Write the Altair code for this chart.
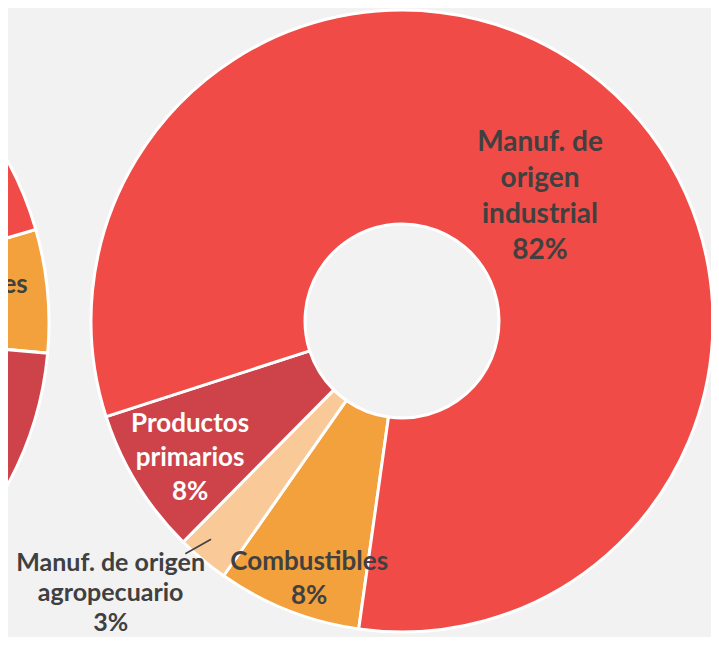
import math
import altair as alt
import pandas as pd

# ---------------- data ----------------
# right (main) donut, clockwise starting with Combustibles
categorias_der = ["Combustibles", "Manuf. de origen agropecuario",
                  "Productos primarios", "Manuf. de origen industrial"]
valores_der = [7.5, 2.7, 7.6, 82.2]
etiquetas_der = ["Combustibles\n8%", "Manuf. de origen\nagropecuario\n3%",
                 "Productos\nprimarios\n8%", "Manuf. de\norigen\nindustrial\n82%"]

# left (partially visible) donut
categorias_izq = ["Combustibles", "Productos primarios",
                  "Manuf. de origen agropecuario", "Manuf. de origen industrial"]
valores_izq = [5.9, 30.0, 3.1, 61.0]
etiquetas_izq = ["Combustibles", "Productos\nprimarios\n30%",
                 "Manuf. de origen\nagropecuario\n3%", "Manuf. de\norigen\nindustrial\n61%"]

dominio_colores = ["Manuf. de origen industrial", "Combustibles",
                   "Manuf. de origen agropecuario", "Productos primarios"]
colores = ["#F04B46", "#F3A13D", "#F9C998", "#CE424A"]

FONT = "Lato"
DARK = "#404040"
BG = "#F2F2F2"
TAU = 2 * math.pi


def frame(cats, vals, labs):
    return pd.DataFrame({"cat": cats, "valor": vals, "etiqueta": labs,
                         "orden": list(range(len(cats)))})


color_scale = alt.Scale(domain=dominio_colores, range=colores)


def donut(df, cx, cy, r_out, r_in, start_deg, labels, leader=None):
    start = math.radians(start_deg)
    tscale = alt.Scale(domain=[0, 100], range=[start, start + TAU])
    arc = alt.Chart(df).mark_arc(
        outerRadius=r_out, innerRadius=r_in, stroke="white", strokeWidth=3
    ).encode(
        x=alt.value(cx), y=alt.value(cy),
        theta=alt.Theta("valor:Q", stack=True, scale=tscale),
        order=alt.Order("orden:Q"),
        color=alt.Color("cat:N", scale=color_scale, legend=None),
    )
    base = alt.Chart(df).transform_window(
        cum="sum(valor)", sort=[alt.SortField("orden")], frame=[None, 0]
    ).transform_calculate(mid="datum.cum - datum.valor / 2")
    layers = [arc]
    for cat, spec in labels.items():
        layers.append(
            base.transform_filter(alt.datum.cat == cat).mark_text(
                radius=spec["r"], dx=spec.get("dx", 0), dy=spec.get("dy", 0),
                font=FONT, fontWeight="bold", fontSize=spec["fs"],
                lineHeight=spec["lh"], lineBreak="\n", color=spec["color"],
                align="center", baseline="middle",
            ).encode(
                x=alt.value(cx), y=alt.value(cy),
                theta=alt.Theta("mid:Q", stack=False, scale=tscale),
                text="etiqueta:N",
            )
        )
    if leader is not None:
        cat, r1, a1, r2, a2 = leader
        ang = f"({start} + datum.mid / 100 * {TAU})"
        layers.append(
            base.transform_filter(alt.datum.cat == cat).transform_calculate(
                lx1=f"{cx} + {r1} * sin({ang} + {a1})",
                ly1=f"{cy} - {r1} * cos({ang} + {a1})",
                lx2=f"{cx} + {r2} * sin({ang} + {a2})",
                ly2=f"{cy} - {r2} * cos({ang} + {a2})",
            ).mark_rule(color=DARK, strokeWidth=1.5).encode(
                x=alt.X("lx1:Q", scale=None, axis=None),
                x2="lx2:Q",
                y=alt.Y("ly1:Q", scale=None, axis=None),
                y2="ly2:Q",
            )
        )
    return alt.layer(*layers)


right = donut(
    frame(categorias_der, valores_der, etiquetas_der),
    cx=394, cy=313, r_out=311, r_in=97, start_deg=188,
    labels={
        "Manuf. de origen industrial": dict(r=185, dx=19, dy=-36, fs=28, lh=36, color=DARK),
        "Productos primarios": dict(r=250, dx=1, dy=-28, fs=26, lh=34, color="white"),
        "Combustibles": dict(r=275, dx=8, dy=-15, fs=26, lh=34, color=DARK),
        "Manuf. de origen agropecuario": dict(r=400, dx=-35, dy=-65, fs=25, lh=30, color=DARK),
    },
    leader=("Manuf. de origen agropecuario", 290, 0.023, 318, 0.054),
)

left = donut(
    frame(categorias_izq, valores_izq, etiquetas_izq),
    cx=-296, cy=315, r_out=337, r_in=104, start_deg=73.9,
    labels={
        "Combustibles": dict(r=236, dx=2, dy=-15, fs=26, lh=34, color=DARK),
    },
)

chart = alt.layer(left, right).resolve_scale(theta="independent").properties(
    width=703, height=629, autosize="none", padding=0, background=BG
).configure_view(stroke=None)

chart.save("out.html", embed_options={"renderer": "svg", "actions": False})
